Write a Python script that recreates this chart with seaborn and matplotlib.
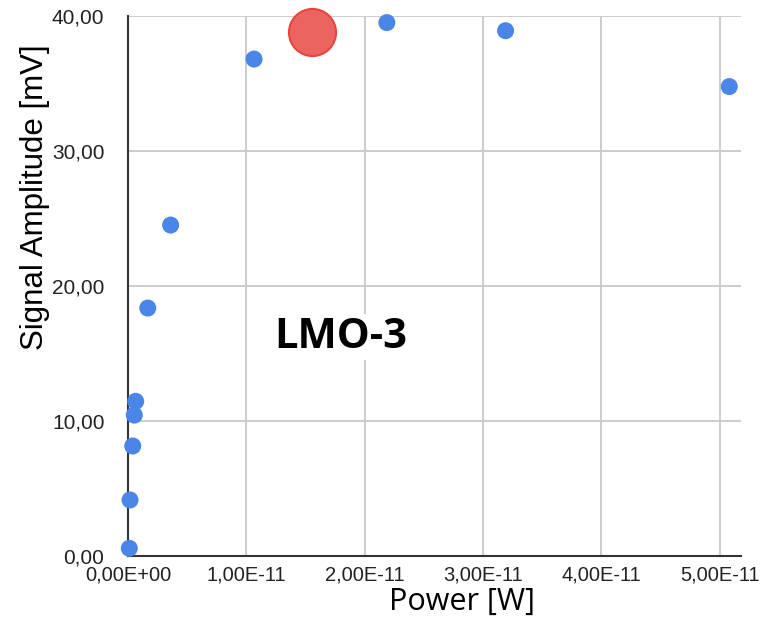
import numpy as np
import pandas as pd
import matplotlib
matplotlib.use("Agg")
import matplotlib.pyplot as plt
from matplotlib.ticker import FuncFormatter
import seaborn as sns

# olcum noktalari (guc [W], sinyal genligi [mV])
power = [0.011e-11, 0.017e-11, 0.040e-11, 0.053e-11, 0.065e-11, 0.167e-11,
         0.360e-11, 1.065e-11, 2.187e-11, 3.190e-11, 5.080e-11]
amplitude = [0.55, 4.13, 8.13, 10.42, 11.44, 18.35, 24.5, 36.8, 39.5, 38.9, 34.76]

# vurgulanan nokta
peak_power = [1.553e-11]
peak_amplitude = [38.77]

x_ticks = [0, 1e-11, 2e-11, 3e-11, 4e-11, 5e-11]
y_ticks = [0, 10, 20, 30, 40]

df = pd.DataFrame({'Power': power, 'Amplitude': amplitude})
df_peak = pd.DataFrame({'Power': peak_power, 'Amplitude': peak_amplitude})

sns.set_style("whitegrid")
plt.rcParams['font.family'] = ['Liberation Sans', 'DejaVu Sans']

fig = plt.figure(figsize=(7.81, 6.27), dpi=100)
ax = fig.add_axes([0.1639, 0.1137, 0.785, 0.861])

sns.scatterplot(data=df, x='Power', y='Amplitude', ax=ax, color='#4A86E8',
                s=150, edgecolor='none', clip_on=False, zorder=3)
sns.scatterplot(data=df_peak, x='Power', y='Amplitude', ax=ax, color='#EB6560',
                s=1150, edgecolor='#E8453C', linewidth=1.5, clip_on=False, zorder=4)

ax.set_xlim(0, 5.18e-11)
ax.set_ylim(0, 40)
ax.set_xticks(x_ticks)
ax.set_yticks(y_ticks)
ax.xaxis.set_major_formatter(FuncFormatter(lambda v, p: f"{v:.2E}".replace('.', ',')))
ax.yaxis.set_major_formatter(FuncFormatter(lambda v, p: f"{v:.2f}".replace('.', ',')))

ax.grid(True, color='#CCCCCC', linewidth=1.4)
ax.set_axisbelow(True)
for side in ['top', 'right']:
    ax.spines[side].set_visible(False)
for side in ['left', 'bottom']:
    ax.spines[side].set_color('#333333')
    ax.spines[side].set_linewidth(1.5)
    ax.spines[side].set_zorder(2.5)

ax.tick_params(axis='y', length=11, width=1.4, color='#CCCCCC', labelsize=15,
               labelcolor='#222222', pad=6)
ax.tick_params(axis='x', length=0, labelsize=14.5, labelcolor='#222222', pad=7)

# eksen basliklari, referanstaki yerlerine
ax.set_xlabel('Power [W]', family=['Open Sans', 'DejaVu Sans'], fontsize=22,
              color='black', va='center')
ax.xaxis.set_label_coords(0.544, -0.086)
ax.set_ylabel('Signal Amplitude [mV]', fontsize=22.5, color='black', va='center')
ax.yaxis.set_label_coords(-0.151, 0.665)

ax.text(1.8e-11, 16.2, 'LMO-3', family=['Open Sans', 'DejaVu Sans'], fontweight='bold',
        fontsize=30, color='black', ha='center', va='center', zorder=5,
        bbox=dict(facecolor='white', edgecolor='none', pad=2))

plt.savefig("out.png", dpi=100)
